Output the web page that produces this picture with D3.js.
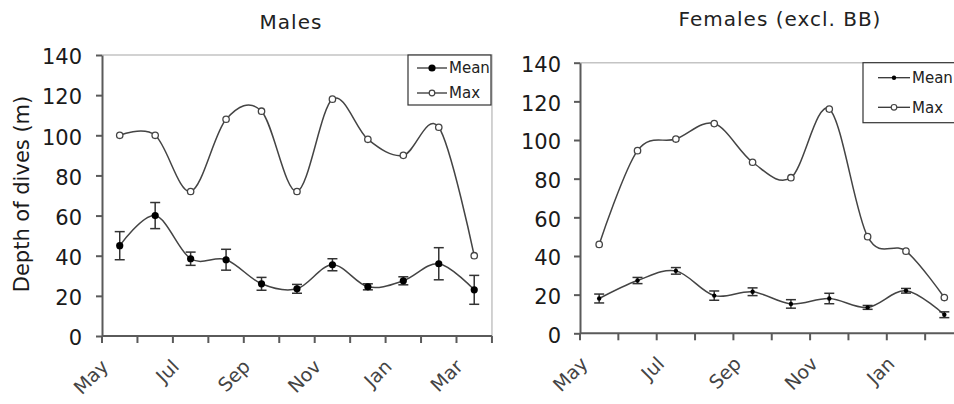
<!DOCTYPE html>
<html>
<head>
<meta charset="utf-8">
<script src="https://cdn.jsdelivr.net/npm/d3@7"></script>
<style>
  body { margin: 0; background: #fff; }
  svg { display: block; font-family: "DejaVu Sans", Verdana, sans-serif; }
</style>
</head>
<body>
<div class="svg-container"></div>
<script>
// data

const maleMonths = ["May", "Jun", "Jul", "Aug", "Sep", "Oct", "Nov", "Dec", "Jan", "Feb", "Mar"];
const maleMax = [100, 100, 72, 108, 112, 72, 118, 98, 90, 104, 40];
const maleMean = [45, 60, 38.5, 38, 26, 23.5, 35.5, 24.5, 27.5, 36, 23];
const maleErr = [7, 6.5, 3.3, 5.2, 3.2, 2.2, 3, 1.5, 2, 8, 7.2];

const femaleMonths = ["May", "Jun", "Jul", "Aug", "Sep", "Oct", "Nov", "Dec", "Jan", "Feb"];
const femaleMax = [46, 94.5, 100.5, 108.5, 88.5, 80.5, 116, 50, 42.5, 18.5];
const femaleMean = [18, 27.3, 32.3, 19.5, 21.5, 15.2, 18, 13.4, 22, 9.6];
const femaleErr = [2.3, 1.6, 1.7, 2.4, 2, 2.2, 2.7, 1, 1.2, 1.5];

const yTicks = [0, 20, 40, 60, 80, 100, 120, 140];
const seriesNames = ["Mean", "Max"];

const w = 954;
const h = 404;

const svg = d3.select(".svg-container")
  .append("svg")
  .attr("width", w)
  .attr("height", h)
  .attr("viewBox", `0 0 ${w} ${h}`);

const smooth = d3.line().curve(d3.curveCardinal.tension(0));

function drawPanel(p) {
  const x = d3.scaleBand().domain(p.months).range([p.left, p.left + p.band * p.months.length]).padding(0);
  const y = d3.scaleLinear().domain([0, 140]).range([p.bottom, p.top]);
  const cx = (d, i) => x(p.months[i]) + x.bandwidth() / 2;
  const g = svg.append("g");

  // plot area border (top, right)
  g.append("path")
    .attr("d", d3.line()([[x.range()[0], y(140)], [x.range()[1], y(140)], [x.range()[1], y(0)]]))
    .style("fill", "none").style("stroke", "#c4c4c4").style("stroke-width", 1.5);

  // y axis
  const yAxis = g.append("g")
    .attr("transform", `translate(${p.left},0)`)
    .call(d3.axisLeft(y).tickValues(yTicks).tickSize(6).tickPadding(p.tickPad).tickSizeOuter(0));
  yAxis.select(".domain").style("stroke", "#5a5a5a").style("stroke-width", 2);
  yAxis.selectAll(".tick line").style("stroke", "#5a5a5a").style("stroke-width", 2);
  yAxis.selectAll(".tick text").style("font-size", "21px").style("fill", "#1a1a1a")
    .style("font-family", "DejaVu Sans").attr("dy", "0.42em");

  // x axis
  g.append("line")
    .attr("x1", x.range()[0]).attr("x2", x.range()[1])
    .attr("y1", y(0)).attr("y2", y(0))
    .style("stroke", "#5a5a5a").style("stroke-width", 2);
  const edges = p.months.map(m => x(m)).concat([x.range()[1]]);
  g.selectAll(".xtick").data(edges).enter()
    .append("line").attr("class", "xtick")
    .attr("x1", d => d).attr("x2", d => d)
    .attr("y1", y(0)).attr("y2", y(0) + 7)
    .style("stroke", "#5a5a5a").style("stroke-width", 2);
  g.selectAll(".xlab").data(p.months.filter((m, i) => i % 2 === 0)).enter()
    .append("text").attr("class", "xlab")
    .attr("transform", d => `translate(${x(d) + x.bandwidth() / 2 - 15},${y(0) + 27}) rotate(-45)`)
    .attr("text-anchor", "end")
    .attr("dy", "0.35em")
    .style("font-size", "19px").style("fill", "#444")
    .text(d => d);

  // title
  g.append("text")
    .attr("x", p.titleX).attr("y", p.titleY)
    .attr("text-anchor", "middle")
    .style("font-size", "20px").style("letter-spacing", "1px").style("fill", "#222")
    .text(p.title);

  // max line
  g.append("path")
    .attr("d", smooth(p.max.map((v, i) => [cx(v, i), y(v)])))
    .style("fill", "none").style("stroke", "#444").style("stroke-width", 1.5);

  // mean line
  g.append("path")
    .attr("d", smooth(p.mean.map((v, i) => [cx(v, i), y(v)])))
    .style("fill", "none").style("stroke", "#444").style("stroke-width", 1.5);

  // error bars
  const eb = g.selectAll(".err").data(p.mean).enter().append("g").attr("class", "err");
  eb.append("line")
    .attr("x1", cx).attr("x2", cx)
    .attr("y1", (d, i) => y(d + p.err[i])).attr("y2", (d, i) => y(d - p.err[i]))
    .style("stroke", "#333").style("stroke-width", 1.5);
  [1, -1].forEach(s => {
    eb.append("line")
      .attr("x1", (d, i) => cx(d, i) - 5).attr("x2", (d, i) => cx(d, i) + 5)
      .attr("y1", (d, i) => y(d + s * p.err[i])).attr("y2", (d, i) => y(d + s * p.err[i]))
      .style("stroke", "#333").style("stroke-width", 1.5);
  });

  // markers
  g.selectAll(".meanpt").data(p.mean).enter()
    .append("circle").attr("class", "meanpt")
    .attr("cx", cx).attr("cy", d => y(d)).attr("r", p.meanR)
    .style("fill", "#000");
  g.selectAll(".maxpt").data(p.max).enter()
    .append("circle").attr("class", "maxpt")
    .attr("cx", cx).attr("cy", d => y(d)).attr("r", 3.2)
    .style("fill", "#fff").style("stroke", "#444").style("stroke-width", 1.3);

  // legend
  const lg = g.append("g").attr("transform", `translate(${p.legX},${y(140)})`);
  lg.append("rect")
    .attr("x", 0).attr("y", 0).attr("width", p.legW).attr("height", p.legH)
    .style("fill", "#fff").style("stroke", "#333").style("stroke-width", 1.2);
  seriesNames.forEach((name, i) => {
    const ly = p.legRow[i];
    lg.append("line").attr("x1", p.legLine[0]).attr("x2", p.legLine[1]).attr("y1", ly).attr("y2", ly)
      .style("stroke", "#333").style("stroke-width", 1.3);
    const mx = (p.legLine[0] + p.legLine[1]) / 2;
    if (name === "Mean") {
      lg.append("circle").attr("cx", mx).attr("cy", ly).attr("r", p.meanR).style("fill", "#000");
    } else {
      lg.append("circle").attr("cx", mx).attr("cy", ly).attr("r", 2.8)
        .style("fill", "#fff").style("stroke", "#444").style("stroke-width", 1.2);
    }
    lg.append("text").attr("x", p.legLine[1] + 2).attr("y", ly).attr("dy", "0.36em")
      .style("font-size", "15px").style("fill", "#222").text(name);
  });
}

drawPanel({
  title: "Males", titleX: 291, titleY: 29,
  months: maleMonths, max: maleMax, mean: maleMean, err: maleErr,
  left: 102, band: 35.45, top: 55, bottom: 336, tickPad: 14, meanR: 3.6,
  legX: 408, legW: 83, legH: 50, legRow: [13, 38], legLine: [9, 39]
});

drawPanel({
  title: "Females (excl. BB)", titleX: 780, titleY: 26,
  months: femaleMonths, max: femaleMax, mean: femaleMean, err: femaleErr,
  left: 580, band: 38.35, top: 62.7, bottom: 333.3, tickPad: 13, meanR: 2.2,
  legX: 863, legW: 110, legH: 60, legRow: [15, 44.6], legLine: [15, 47]
});

// y axis title
svg.append("text")
  .attr("transform", "translate(29,194) rotate(-90)")
  .attr("text-anchor", "middle")
  .style("font-size", "21px").style("fill", "#1a1a1a")
  .text("Depth of dives (m)");
</script>
</body>
</html>
